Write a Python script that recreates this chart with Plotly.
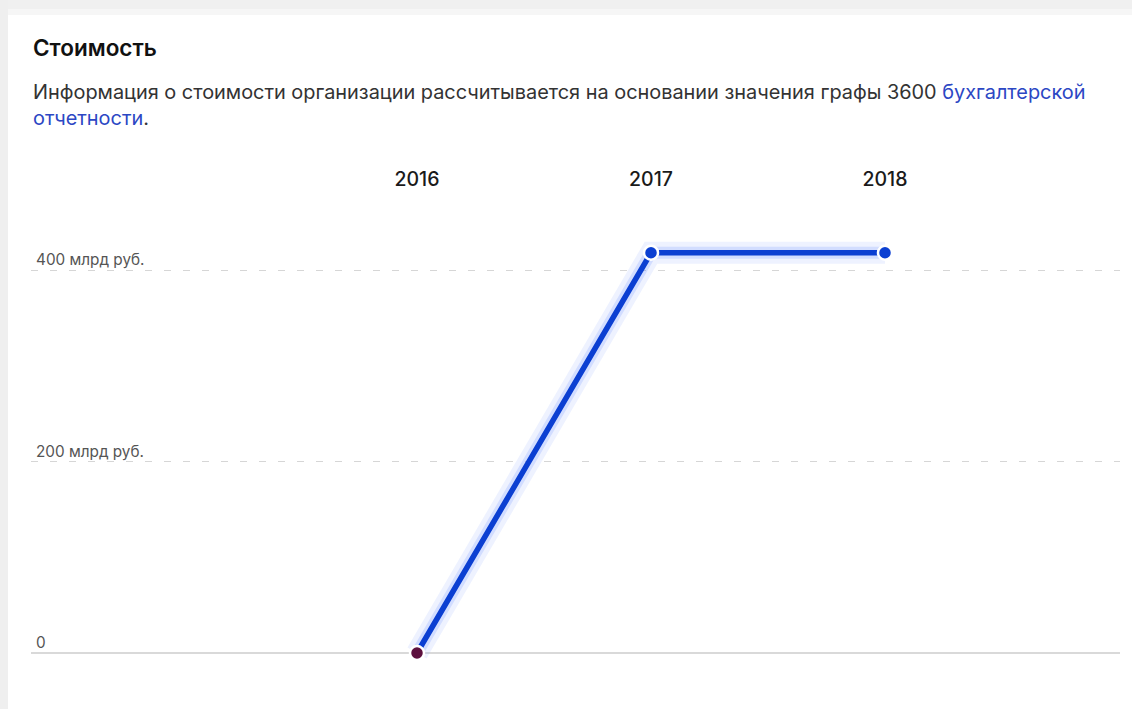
import plotly.graph_objects as go

years = [2016, 2017, 2018]
values = [0, 418, 418]  # млрд руб.
point_colors = ["#5c0f3e", "#0b3fd2", "#0b3fd2"]
y_ticks = [0, 200, 400]
y_tick_labels = ["0", "200 млрд руб.", "400 млрд руб."]

title_text = "Стоимость"
desc_line1 = "Информация о стоимости организации рассчитывается на основании значения графы 3600 "
desc_link1 = "бухгалтерской"
desc_link2 = "отчетности"

W, H = 1132, 709
ml, mr, mt, mb = 31, 12, 197, 29
plot_w = W - ml - mr

fig = go.Figure()

# glow
fig.add_trace(go.Scatter(x=years, y=values, mode="lines",
                         line=dict(color="rgba(70,110,255,0.09)", width=22),
                         hoverinfo="skip", showlegend=False))
fig.add_trace(go.Scatter(x=years, y=values, mode="lines",
                         line=dict(color="rgba(70,110,255,0.16)", width=12),
                         hoverinfo="skip", showlegend=False))
fig.add_trace(go.Scatter(x=years, y=values, mode="lines+markers",
                         line=dict(color="#0b3fd2", width=5.5),
                         marker=dict(size=14, color=point_colors,
                                     line=dict(color="white", width=2.5)),
                         showlegend=False))

annotations = []
for v, lab in zip(y_ticks, y_tick_labels):
    annotations.append(dict(x=0, xref="paper", y=v, yref="y", text=lab,
                            showarrow=False, xanchor="left", yanchor="bottom",
                            xshift=3, yshift=-1,
                            font=dict(family="Inter", size=15.3, color="#555")))

px = lambda p: (p - ml) / plot_w
py = lambda p: (H - mb - p) / (H - mt - mb)

annotations.append(dict(x=px(31), y=py(47), xref="paper", yref="paper",
                        text=title_text, showarrow=False, xanchor="left",
                        yanchor="middle",
                        font=dict(family="Inter", size=22.5, color="#111", weight=600)))
annotations.append(dict(x=px(31), y=py(105.5), xref="paper", yref="paper",
                        text=desc_line1 + "<span style='color:#2c47c4'>" + desc_link1 +
                        "</span><br><span style='color:#2c47c4'>" + desc_link2 + "</span>.",
                        showarrow=False, xanchor="left", yanchor="middle", align="left",
                        font=dict(family="Inter", size=19.9, color="#333")))

shapes = [
    dict(type="rect", xref="paper", yref="paper", x0=px(0), x1=px(W), y0=py(0), y1=py(9),
         fillcolor="#f0f0f0", line=dict(width=0), layer="below"),
    dict(type="rect", xref="paper", yref="paper", x0=px(0), x1=px(W), y0=py(9), y1=py(15),
         fillcolor="#f6f6f6", line=dict(width=0), layer="below"),
    dict(type="rect", xref="paper", yref="paper", x0=px(0), x1=px(8), y0=py(0), y1=py(H),
         fillcolor="#efefef", line=dict(width=0), layer="below"),
]

fig.update_layout(
    width=W, height=H,
    margin=dict(l=ml, r=mr, t=mt, b=mb),
    paper_bgcolor="white", plot_bgcolor="white",
    font=dict(family="Inter"),
    xaxis=dict(range=[2016 - (417 - ml) / 234, 2016 + (W - mr - 417) / 234],
               side="top", tickmode="array", tickvals=years,
               ticktext=[str(y) for y in years], showgrid=False, zeroline=False,
               showline=False, ticks="", ticklabelstandoff=6,
               tickfont=dict(family="Inter", size=19.5, color="#1a1a1a", weight=500)),
    yaxis=dict(range=[-(H - mb - 653) / 0.9575, (653 - mt) / 0.9575],
               tickvals=y_ticks, showticklabels=False, showgrid=True,
               gridcolor="#d6d6d6", griddash="7px,12px", gridwidth=1,
               zeroline=True, zerolinecolor="#d9d9d9", zerolinewidth=2,
               showline=False),
    annotations=annotations,
    shapes=shapes,
    showlegend=False,
)

fig.write_html("out.html", config={"displayModeBar": False},
               post_script="document.body.style.margin='0px';")
